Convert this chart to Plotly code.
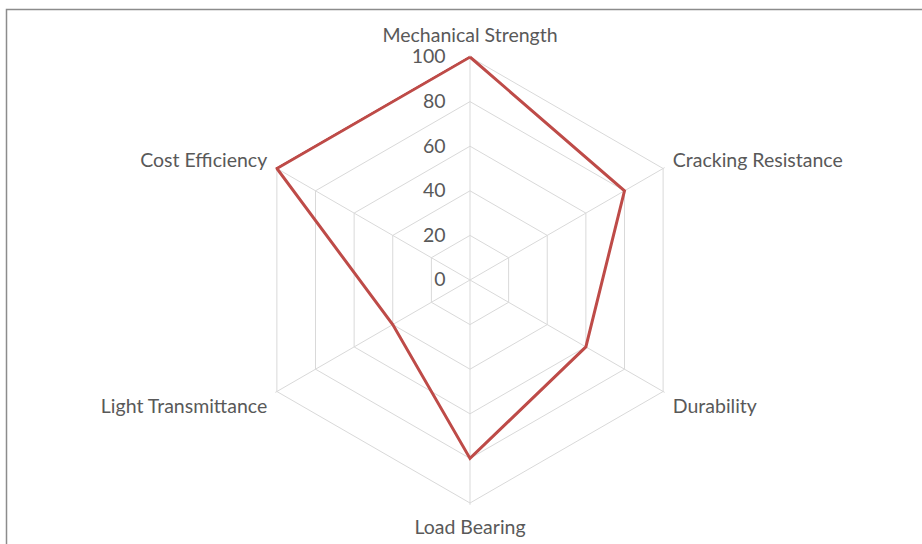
import plotly.graph_objects as go

categories = ["Mechanical Strength", "Cracking Resistance", "Durability",
              "Load Bearing", "Light Transmittance", "Cost Efficiency"]
values = [100, 80, 60, 80, 40, 100]
radial_ticks = [0, 20, 40, 60, 80, 100]

W, H = 922, 544
RMAX = 100.8
cx, cy, R = 470, 280, 223 * RMAX / 100
FONT = "Lato, 'Open Sans', sans-serif"
TXT = "#595959"
GRID = "#d9d9d9"

fig = go.Figure()
fig.add_trace(go.Scatterpolar(
    r=values + values[:1],
    theta=categories + categories[:1],
    mode="lines",
    line=dict(color="#be4b48", width=3),
    cliponaxis=False,
    showlegend=False,
    hoverinfo="skip",
))

fig.update_layout(
    width=W, height=H,
    margin=dict(l=0, r=0, t=0, b=0),
    paper_bgcolor="white",
    font=dict(family=FONT, size=19.5, color=TXT),
    polar=dict(
        domain=dict(x=[(cx - R) / W, (cx + R) / W],
                    y=[(H - cy - R) / H, (H - cy + R) / H]),
        gridshape="linear",
        bgcolor="white",
        angularaxis=dict(
            rotation=90, direction="clockwise",
            showline=False,
            gridcolor=GRID, gridwidth=1, layer="below traces",
            ticks="outside", ticklen=5, tickcolor="rgba(0,0,0,0)",
            tickfont=dict(size=19.5, color=TXT),
        ),
        radialaxis=dict(
            range=[0, RMAX], tickvals=radial_ticks,
            angle=90, tickangle=90, side="counterclockwise",
            showline=False, layer="below traces",
            ticks="outside", ticklen=17, tickcolor="rgba(0,0,0,0)",
            gridcolor=GRID, gridwidth=1,
            tickfont=dict(size=19.5, color=TXT),
        ),
    ),
    shapes=[dict(type="rect", xref="paper", yref="paper",
                 x0=6.5 / W, x1=1.05, y0=-0.05, y1=(H - 9.5) / H,
                 line=dict(color="#8c8c8c", width=1.5), fillcolor="rgba(0,0,0,0)")],
)

fig.write_html("out.html", config={"displayModeBar": False},
               post_script="document.body.style.margin='0';document.body.style.overflow='hidden';")
